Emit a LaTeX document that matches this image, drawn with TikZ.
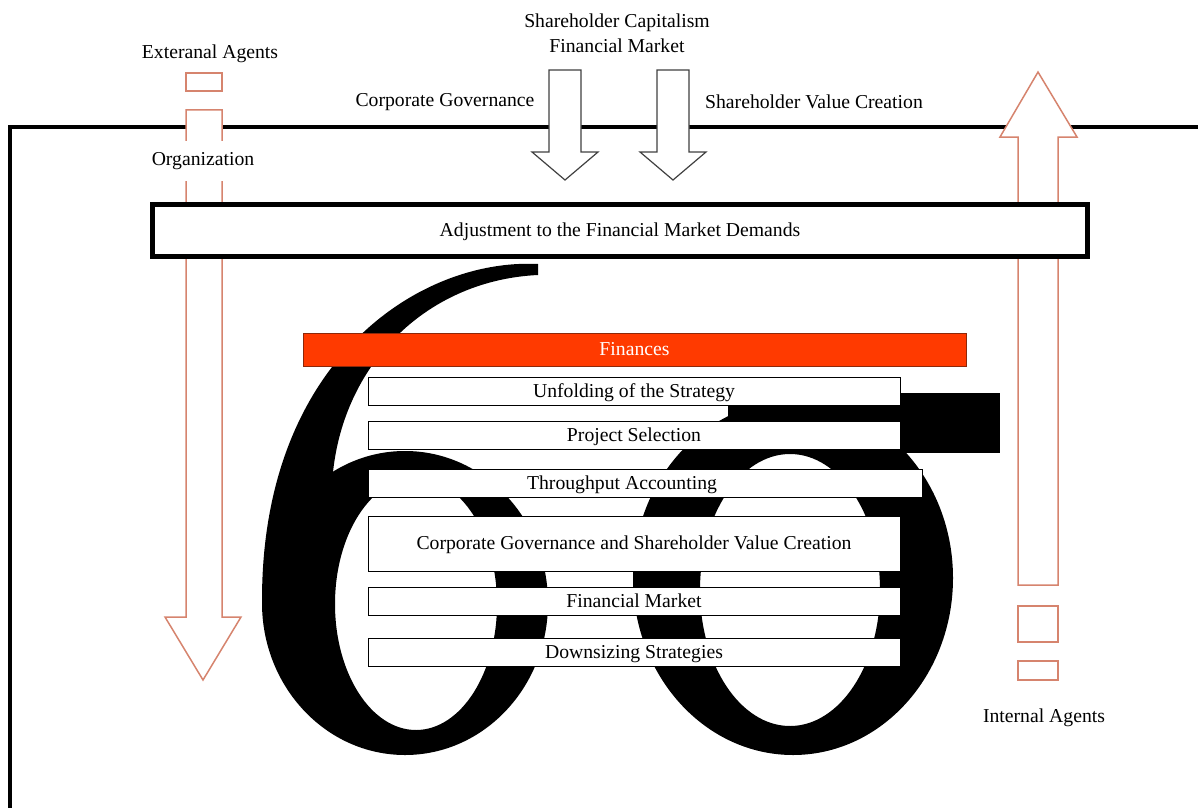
\documentclass[tikz,border=0pt]{standalone}
\usepackage{fontspec}
\setmainfont{Liberation Serif}
\usepackage{tikz}
\usetikzlibrary{positioning,calc}
\definecolor{agent}{RGB}{214,132,110}
\definecolor{finred}{RGB}{255,58,0}
\definecolor{finedge}{RGB}{140,40,10}
\tikzstyle{diagram}=[
  x=0.5pt,y=-0.5pt,font=\fontsize{9.85}{12.5}\selectfont
]
\tikzstyle{frameline}=[
  line width=2pt
]
\tikzstyle{glyphink}=[
  fill=black,even odd rule
]
\tikzstyle{agentarrow}=[
  draw=agent,line width=0.75pt,fill=white
]
\tikzstyle{marketarrow}=[
  draw=black!75,line width=0.6pt,fill=white
]
\tikzstyle{plainlabel}=[
  inner sep=1pt
]
\tikzstyle{adjustbox}=[
  draw,line width=2.5pt,fill=white,minimum width=467.5pt,minimum height=26pt,inner sep=0pt,
  text height=6.5pt,text depth=0.5pt
]
\tikzstyle{finbox}=[
  draw=finedge,line width=0.5pt,fill=finred,text=white,minimum width=331.5pt,minimum height=16.5pt,inner sep=0pt,
  text height=6.5pt,text depth=0.5pt
]
\tikzstyle{stepbox}=[
  draw,line width=0.5pt,fill=white,minimum width=266pt,minimum height=14pt,inner sep=0pt,
  text height=6.5pt,text depth=0.5pt
]

\begin{document}
\begin{tikzpicture}[diagram]
  \useasboundingbox (0,0) rectangle (1198,808);
  \draw [frameline] (1198,127) -- (10,127) -- (10,808);
  % the 6
  \fill [glyphink] (538,264) .. controls (420,258) and (262,360) .. (262,600) -- (300,600)
    -- (333,472) .. controls (345,360) and (430,280) .. (538,275) -- cycle;
  \fill [glyphink] (405,603) ellipse [x radius=143,y radius=152]
    (416,604) ellipse [x radius=81,y radius=126];
  % the sigma
  \fill [glyphink] (793,578) ellipse [x radius=160,y radius=177]
    (790,590) ellipse [x radius=90,y radius=136];
  \fill [glyphink] (728,393) rectangle (1000,453);
  % pressures from the market
  \foreach \cx in {565,673}
    \draw [marketarrow] (\cx-16,70) -- (\cx+16,70) -- (\cx+16,152) -- (\cx+33,152)
      -- (\cx,180) -- (\cx-33,152) -- (\cx-16,152) -- cycle;
  % agents
  \draw [agentarrow] (186,73) rectangle (222,91);
  \draw [agentarrow] (186,110) -- (222,110) -- (222,617) -- (241,617) -- (203,680)
    -- (165,617) -- (186,617) -- cycle;
  \draw [agentarrow] (1018,585) -- (1018,137) -- (1000,137) -- (1038,72) -- (1077,137)
    -- (1058,137) -- (1058,585) -- cycle;
  \draw [agentarrow] (1018,606) rectangle (1058,642);
  \draw [agentarrow] (1018,661) rectangle (1058,680);
  \node (capital) at (617,33) [plainlabel,align=center] {Shareholder Capitalism\\Financial Market};
  \node (external) at (210,54) [plainlabel] {Exteranal Agents};
  \node (governance) at (445,102) [plainlabel] {Corporate Governance};
  \node (value) at (814,102) [plainlabel] {Shareholder Value Creation};
  \node (org) at (203,161) [plainlabel,fill=white,minimum height=20pt] {Organization};
  \node (internal) at (1044,718) [plainlabel] {Internal Agents};
  % boxes
  \node (adjust) at (620,230) [adjustbox] {Adjustment to the Financial Market Demands};
  \node (finances) at (634.5,349.5) [finbox] {Finances};
  \node (unfold) at (634,391) [stepbox] {Unfolding of the Strategy};
  \node (select) at (634,435) [stepbox] {Project Selection};
  \node (account) at (645,483) [stepbox,minimum width=277pt] {Throughput Accounting\kern23pt};
  \node (cgsvc) at (634,543.5) [stepbox,minimum height=27.5pt] {Corporate Governance and Shareholder Value Creation};
  \node (market) at (634,601) [stepbox] {Financial Market};
  \node (downsize) at (634,652) [stepbox] {Downsizing Strategies};
\end{tikzpicture}
\end{document}
